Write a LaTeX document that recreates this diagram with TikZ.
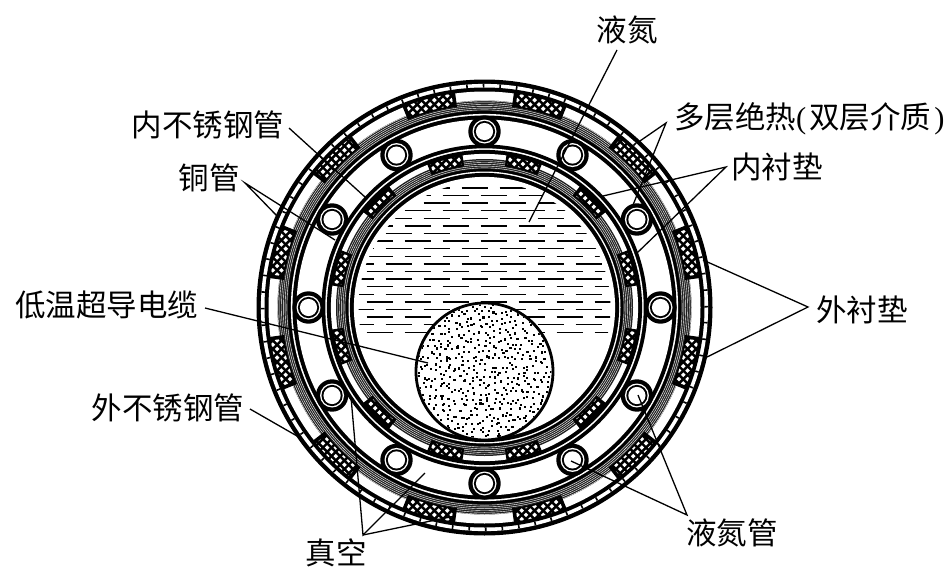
\documentclass[tikz,border=0pt]{standalone}
\usepackage{fontspec}
\setmainfont{Liberation Serif}
\newfontfamily\cjk{Noto Sans CJK SC}
\usetikzlibrary{calc}
\tikzset{
  lab/.style={font=\cjk\fontsize{30.5}{32}\selectfont,inner sep=0pt,text=black},
  leader/.style={draw=black,line width=1.3pt},
}
\newcommand{\padsector}[4]{% angle, R1, R2, half angle
  \fill[black] (#1-#4:#2) arc[start angle=#1-#4,end angle=#1+#4,radius=#2] -- (#1+#4:#3) arc[start angle=#1+#4,end angle=#1-#4,radius=#3] -- cycle;
  \begin{scope}
    \pgfmathsetmacro{\ra}{#2+1.8}\pgfmathsetmacro{\rb}{#3-1.8}
    \pgfmathsetmacro{\hh}{#4-1.0}\pgfmathsetmacro{\rc}{(#2+#3)/2}
    \clip (#1-\hh:\ra) arc[start angle=#1-\hh,end angle=#1+\hh,radius=\ra] -- (#1+\hh:\rb) arc[start angle=#1+\hh,end angle=#1-\hh,radius=\rb] -- cycle;
    \foreach \i in {-5,...,5}{\foreach \j in {-5,...,5}{
      \fill[white,shift={(#1:\rc)},shift={({(\i+\j)*4.3},{(\i-\j)*4.3})},rotate=45] (-1.65,-1.65) rectangle (1.65,1.65);
    }}
  \end{scope}
}
\begin{document}
\begin{tikzpicture}[x=1pt,y=1pt]
\useasboundingbox[fill=white] (0,-581) rectangle (951,0);
\begin{scope}[shift={(484.5,-307.5)}]
  % outer tube
  \fill[black] (0,0) circle[radius=228];
  \fill[white] (0,0) circle[radius=223.6];
  \draw[black,line width=3.6pt,dash pattern=on 1.6pt off 15pt] (0,0) circle[radius=221.8];
  \fill[black] (0,0) circle[radius=220];
  \fill[white] (0,0) circle[radius=216];
  % outer multilayer insulation
  \fill[black!88] (0,0) circle[radius=207];
  \foreach \r in {197.6,199.4,...,207}{\draw[white,line width=.4pt] (0,0) circle[radius=\r];}
  % inner wall of outer tube
  \fill[black] (0,0) circle[radius=196.5];
  \fill[white] (0,0) circle[radius=193.6];
  \fill[black] (0,0) circle[radius=192];
  \fill[white] (0,0) circle[radius=188];
  % outer pads
  \foreach \a in {15,45,...,345}{\padsector{\a}{202.5}{218}{7.2}}
  % nitrogen pipes
  \foreach \a in {0,30,...,330}{
    \begin{scope}[shift={(\a:176)}]
      \fill[black] (0,0) circle[radius=16.2];
      \fill[white] (0,0) circle[radius=12];
      \fill[black] (0,0) circle[radius=10.6];
      \fill[white] (0,0) circle[radius=8.6];
    \end{scope}
  }
  % inner tube
  \fill[black] (0,0) circle[radius=163];
  \fill[white] (0,0) circle[radius=159.2];
  \fill[black] (0,0) circle[radius=157.6];
  \fill[white] (0,0) circle[radius=153.6];
  % inner MLI
  \fill[black!88] (0,0) circle[radius=148.5];
  \foreach \r in {139.6,141.4,...,148}{\draw[white,line width=.4pt] (0,0) circle[radius=\r];}
  \fill[black] (0,0) circle[radius=138.5];
  \fill[white] (0,0) circle[radius=136];
  \fill[black] (0,0) circle[radius=134.6];
  \fill[white] (0,0) circle[radius=130.6];
  % inner pads
  \foreach \a in {15,45,...,345}{\padsector{\a}{142.5}{154.5}{6.8}}
  % liquid nitrogen dashes
  \begin{scope}
    \clip (0,0) circle[radius=126];
    \foreach \k in {-17,...,17}{
      \pgfmathsetmacro{\yy}{-(\k*7.6)+104.5}
      \pgfmathsetmacro{\off}{mod(abs(\k),2)*19}
      \foreach \n in {-5,...,4}{
        \draw[black,line width=1.4pt] ({\n*38+\off+3-26},\yy) -- ++(26,0);
      }
    }
  \end{scope}
  % superconducting cable
  \begin{scope}[shift={(0,-64)}]
    \fill[white] (0,0) circle[radius=68.5];
    \clip (0,0) circle[radius=67];
    \pgfmathsetseed{11}
    \foreach \i in {-12,...,12}{
      \foreach \j in {-12,...,12}{
        \pgfmathsetmacro{\px}{\i*5.5+5.5*rnd-2.75}
        \pgfmathsetmacro{\py}{\j*5.5+5.5*rnd-2.75}
        \fill[black,shift={(\px,\py)}] (-1.05,-1.05) rectangle (1.05,1.05);
      }
    }
  \end{scope}
  \draw[black,line width=2.8pt] (0,-64) circle[radius=68.5];
\end{scope}
% labels
\node[lab] (lyd) at (627,-30) {液氮};
\node[lab,anchor=west] (dcjr) at (674,-119) {多层绝热{\rmfamily(}\hspace{3pt}双层介质\hspace{3pt}{\rmfamily)}};
\node[lab] (ncd) at (777,-167) {内衬垫};
\node[lab] (wcd) at (862,-310) {外衬垫};
\node[lab] (nbx) at (208,-125) {内不锈钢管};
\node[lab] (tg) at (209,-178) {铜管};
\node[lab] (dw) at (107,-305) {低温超导电缆};
\node[lab] (wbx) at (168,-408) {外不锈钢管};
\node[lab] (zk) at (336,-553) {真空};
\node[lab] (ydg) at (732,-533) {液氮管};
% leader ends
\coordinate (a1) at (617,-50);  \coordinate (t1) at (529,-222);
\coordinate (a2) at (666,-123); \coordinate (t2a) at (637,-143); \coordinate (t2b) at (633,-205);
\coordinate (a3) at (726,-167); \coordinate (t3a) at (603,-196); \coordinate (t3b) at (637,-253);
\coordinate (a4) at (808,-307); \coordinate (t4a) at (703,-260); \coordinate (t4b) at (705,-358);
\coordinate (a5) at (289,-128); \coordinate (t5) at (365,-197);
\coordinate (a6) at (245,-183); \coordinate (t6a) at (278,-217); \coordinate (t6b) at (335,-240);
\coordinate (a7) at (205,-308); \coordinate (t7) at (428,-363);
\coordinate (a8) at (250,-409); \coordinate (t8) at (297,-436);
\coordinate (a9) at (363,-535); \coordinate (t9a) at (351,-397); \coordinate (t9b) at (425,-473); \coordinate (t9c) at (455,-516);
\coordinate (a10) at (687,-515); \coordinate (t10a) at (638,-395); \coordinate (t10b) at (571,-461);
\draw[leader] (a1) -- (t1);
\draw[leader] (t2a) -- (a2) -- (t2b);
\draw[leader] (t3a) -- (a3) -- (t3b);
\draw[leader] (t4a) -- (a4) -- (t4b);
\draw[leader] (a5) -- (t5);
\draw[leader] (t6a) -- (a6) -- (t6b);
\draw[leader] (a7) -- (t7);
\draw[leader] (a8) -- (t8);
\draw[leader] (t9a) -- (a9) -- (t9b);
\draw[leader] (a9) -- (t9c);
\draw[leader] (t10a) -- (a10) -- (t10b);
\end{tikzpicture}
\end{document}
